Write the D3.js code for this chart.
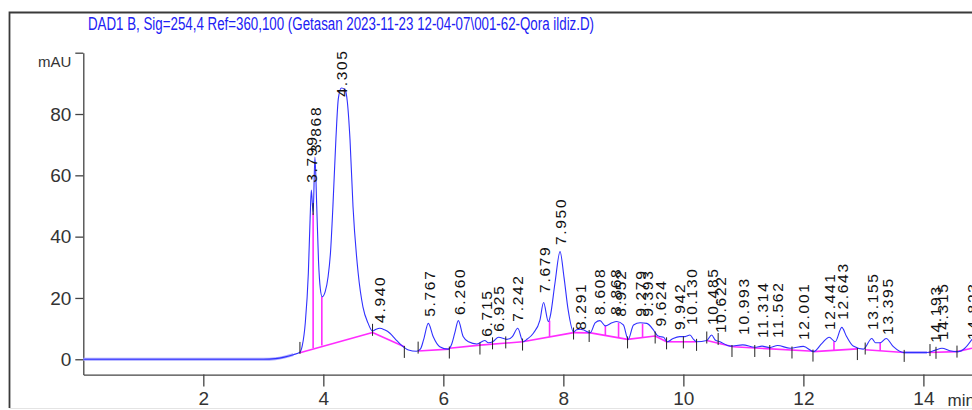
<!DOCTYPE html>
<html lang="en">
  <head>
    <meta charset="utf-8">
    <title>DAD1 B chromatogram</title>
    <script type="text/javascript" src="https://d3js.org/d3.v7.min.js"></script>
    <style>
      body { margin: 0; background: #fff; }
      svg { display: block; }
    </style>
  </head>
  <body>
    <script type="text/javascript">
      var width = 972;
      var height = 410;

      var title = "DAD1 B, Sig=254,4 Ref=360,100 (Getasan 2023-11-23 12-04-07\\001-62-Qora ildiz.D)";

      // detector trace, [minutes, mAU]
      var trace = [
        [0.0, 0], [0.5, 0], [1.0, 0], [1.5, 0], [2.0, 0], [2.5, 0], [3.0, 0], [3.2, 0.2],
        [3.35, 0.7], [3.5, 1.5], [3.61, 2.3], [3.65, 4.5], [3.70, 12], [3.75, 28], [3.78, 46],
        [3.80, 55.2], [3.83, 47.7], [3.86, 66], [3.89, 50], [3.92, 32], [3.95, 23], [3.98, 20.4],
        [4.03, 22], [4.08, 27], [4.12, 35], [4.16, 50], [4.21, 72], [4.25, 85], [4.30, 88.5],
        [4.36, 88], [4.40, 84], [4.445, 71.5], [4.495, 49.7], [4.58, 28.2], [4.66, 17.1],
        [4.745, 11.8], [4.82, 9.2], [4.88, 9.8], [4.94, 10.1], [5.02, 9.6], [5.11, 8.5],
        [5.2, 6.6], [5.3, 4.6], [5.42, 3.0], [5.55, 2.6], [5.62, 3.4], [5.67, 6.3], [5.75, 11.7],
        [5.83, 7.4], [5.94, 4.1], [6.08, 3.3], [6.14, 5], [6.19, 8.5], [6.25, 12.6], [6.33, 7.4],
        [6.42, 5.7], [6.56, 5.0], [6.69, 6.1], [6.75, 5.4], [6.83, 5.8], [6.92, 7.2], [7.06, 6.5],
        [7.15, 7.4], [7.24, 10.1], [7.33, 5.7], [7.40, 6.6], [7.5, 8.5], [7.61, 12.8], [7.67, 18.5],
        [7.75, 12.3], [7.78, 13.9], [7.86, 24.8], [7.945, 35.1], [8.01, 26.9], [8.08, 16.1],
        [8.17, 8.9], [8.22, 9.6], [8.28, 9.8], [8.33, 9.6], [8.45, 8.7], [8.53, 11.9], [8.61, 12.6],
        [8.70, 10.9], [8.81, 11.9], [8.89, 12.3], [9.0, 11.2], [9.08, 6.5], [9.17, 11.2],
        [9.28, 11.9], [9.39, 11.7], [9.5, 9.6], [9.56, 7.9], [9.61, 7.4], [9.67, 7.2], [9.73, 5.7],
        [9.83, 6.8], [9.94, 7.4], [10.03, 7.4], [10.11, 7.9], [10.17, 6.5], [10.22, 5.7],
        [10.39, 6.1], [10.47, 7.9], [10.53, 6.3], [10.61, 5.7], [10.78, 4.3], [10.99, 4.7],
        [11.19, 3.9], [11.31, 4.3], [11.44, 3.8], [11.57, 4.5], [11.78, 3.6], [12.0, 4.2],
        [12.17, 2.5], [12.31, 5.2], [12.43, 7.2], [12.53, 5.7], [12.64, 10.4], [12.72, 7.4],
        [12.83, 4.3], [13.0, 3.3], [13.14, 6.8], [13.2, 5.4], [13.28, 5.4], [13.38, 6.8],
        [13.5, 4.1], [13.67, 2.2], [13.9, 2.2], [14.06, 2.2], [14.19, 2.9], [14.31, 3.6],
        [14.44, 2.8], [14.58, 2.5], [14.69, 3.6], [14.81, 6.5]
      ];

      var peakTimes = [3.799, 3.868, 4.305, 4.940, 5.767, 6.260, 6.715, 6.925, 7.242, 7.679,
                       7.950, 8.291, 8.608, 8.868, 8.952, 9.279, 9.393, 9.624, 9.942, 10.130,
                       10.485, 10.622, 10.993, 11.314, 11.562, 12.001, 12.441, 12.643, 13.155,
                       13.395, 14.193, 14.315, 14.823];
      var peakHeights = [55.6, 65.3, 83.7, 9.9, 11.9, 12.5, 5.4, 7.0, 10.3, 19.7,
                         35.3, 7.6, 12.5, 12.5, 11.9, 11.9, 11.9, 8.7, 7.6, 9.2,
                         9.2, 6.6, 6.0, 5.0, 5.0, 4.3, 7.6, 10.9, 7.6,
                         6.0, 3.4, 4.3, 4.3];

      // integration baselines, each one a polyline of [minutes, mAU]
      var baselines = [
        [[3.61, 2.1], [4.82, 8.7]],
        [[4.82, 8.7], [5.35, 4.1]],
        [[5.58, 2.7], [6.10, 3.3]],
        [[6.10, 3.6], [6.61, 4.6], [7.32, 5.7]],
        [[7.32, 5.7], [8.17, 8.7]],
        [[8.17, 8.7], [8.43, 8.6]],
        [[8.43, 8.7], [9.07, 6.5]],
        [[9.07, 6.5], [9.53, 7.6]],
        [[9.53, 7.6], [9.72, 5.7]],
        [[9.72, 5.7], [10.22, 5.7]],
        [[10.39, 6.1], [10.83, 4.1]],
        [[10.83, 4.1], [12.17, 2.6]],
        [[12.17, 2.5], [12.90, 3.4]],
        [[13.03, 3.1], [13.68, 2.2]],
        [[14.08, 2.2], [14.56, 2.5]],
        [[14.56, 2.5], [14.81, 3.6]]
      ];

      // drop lines between fused peaks: [minutes, top mAU, bottom mAU]
      var dropLines = [[3.83, 47.7, 3.6], [3.975, 20.4, 4.5], [7.77, 12.6, 7.3], [8.70, 10.9, 7.8],
                       [8.92, 11.9, 7.0], [9.32, 11.6, 7.1], [12.51, 5.9, 2.9], [13.28, 5.4, 2.7]];

      // black start/stop event marks: [minutes, mAU]
      var eventMarks = [[3.61, 3.7], [3.83, 49], [4.82, 9.6], [5.35, 2.4], [5.58, 3.8], [6.10, 2.2],
                        [6.61, 3.5], [6.82, 5.2], [7.04, 5.5], [7.32, 4.8], [8.17, 8.4], [8.43, 7.6],
                        [9.07, 5.5], [9.53, 7.1], [9.72, 5.2], [10.0, 5.5], [10.22, 4.7], [10.39, 7.1],
                        [10.58, 6.6], [10.81, 2.7], [11.19, 2.7], [11.44, 2.7], [11.81, 2.2],
                        [12.16, 1.2], [12.90, 1.7], [13.03, 3.5], [13.68, 1.1], [14.11, 3.0],
                        [14.21, 2.1], [14.56, 2.5]];

      var yMajorTicks = [0, 20, 40, 60, 80, 100];
      var xMajorTicks = [2, 4, 6, 8, 10, 12, 14];

      var xScale = d3.scaleLinear().domain([0, 14.81]).range([83.3, 972]);
      var yScale = d3.scaleLinear().domain([-5, 100]).range([374.6, 52.7]);

      var svg = d3.select("body")
            .append("svg")
            .attr("width", width)
            .attr("height", height);

      svg.append("rect").attr("width", width).attr("height", height).attr("fill", "#fff");

      // frame
      svg.append("path")
         .attr("d", "M9.5,408 V12.5 H" + width)
         .attr("fill", "none")
         .attr("stroke", "#3a3a3a")
         .attr("stroke-width", 1.8);
      svg.append("line")
         .attr("x1", 9.5).attr("x2", width).attr("y1", 408.5).attr("y2", 408.5)
         .attr("stroke", "#e4e4e4");

      var narrow = "'Liberation Sans Narrow', 'Arial Narrow', 'Liberation Sans', sans-serif";

      svg.append("text")
         .text(title)
         .attr("x", 88)
         .attr("y", 29.5)
         .attr("font-family", narrow)
         .attr("font-size", "17.5px")
         .attr("textLength", 506)
         .attr("lengthAdjust", "spacingAndGlyphs")
         .attr("fill", "#2020f4");

      // y axis
      var yAxisG = svg.append("g").attr("transform", "translate(" + xScale(0) + ",0)").attr("color", "#444");
      yAxisG.call(d3.axisLeft(yScale)
            .tickValues(d3.range(5, 100, 5).filter(function(d){ return d % 20 != 0; }))
            .tickSize(4).tickSizeOuter(0).tickFormat(""));
      yAxisG.call(d3.axisLeft(yScale)
            .tickValues(yMajorTicks)
            .tickSize(8).tickSizeOuter(0).tickPadding(4)
            .tickFormat(function(d){ return d == 100 ? "" : d; }));
      yAxisG.selectAll("path, line").attr("stroke-width", 1.3);
      yAxisG.selectAll("text")
            .attr("font-family", narrow)
            .attr("font-size", "19px")
            .attr("fill", "#333");
      yAxisG.append("text")
            .text("mAU")
            .attr("x", -12)
            .attr("y", yScale(97))
            .attr("dy", "0.35em")
            .attr("text-anchor", "end")
            .attr("font-family", narrow)
            .attr("font-size", "15px")
            .attr("fill", "#333");

      // x axis
      var xAxisG = svg.append("g").attr("transform", "translate(0," + yScale(-5) + ")").attr("color", "#444");
      xAxisG.call(d3.axisBottom(xScale)
            .tickValues(d3.range(0.5, 14.81, 0.5).filter(function(d){ return d % 2 != 0; }))
            .tickSize(6).tickSizeOuter(0).tickFormat(""));
      xAxisG.call(d3.axisBottom(xScale)
            .tickValues(xMajorTicks)
            .tickSize(12).tickSizeOuter(0).tickPadding(5)
            .tickFormat(d3.format("d")));
      xAxisG.selectAll("path, line").attr("stroke-width", 1.3);
      xAxisG.selectAll("text")
            .attr("font-family", narrow)
            .attr("font-size", "19px")
            .attr("fill", "#333");
      xAxisG.append("text")
            .text("min")
            .attr("x", xScale(14.63))
            .attr("y", 31)
            .attr("font-family", narrow)
            .attr("font-size", "17px")
            .attr("fill", "#333");

      var line = d3.line()
            .x(function(d){ return xScale(d[0]); })
            .y(function(d){ return yScale(d[1]); })
            .curve(d3.curveMonotoneX);

      // flat stretches with no integration show as a wider pale trace
      svg.append("path")
         .datum(trace.filter(function(d){ return d[0] <= 3.6; }))
         .attr("d", line)
         .attr("fill", "none")
         .attr("stroke", "#a9a9ff")
         .attr("stroke-width", 3);
      svg.append("path")
         .datum(trace.filter(function(d){ return d[0] >= 13.67 && d[0] <= 14.06; }))
         .attr("d", line)
         .attr("fill", "none")
         .attr("stroke", "#b9a9ff")
         .attr("stroke-width", 3);

      // baselines
      svg.selectAll("path.baseline")
         .data(baselines)
         .enter()
         .append("path")
         .attr("class", "baseline")
         .attr("d", d3.line()
               .x(function(d){ return xScale(d[0]); })
               .y(function(d){ return yScale(d[1]); }))
         .attr("fill", "none")
         .attr("stroke", "#ff2cff")
         .attr("stroke-width", 1.6);

      svg.selectAll("line.drop")
         .data(dropLines)
         .enter()
         .append("line")
         .attr("class", "drop")
         .attr("x1", function(d){ return xScale(d[0]); })
         .attr("x2", function(d){ return xScale(d[0]); })
         .attr("y1", function(d){ return yScale(d[1]); })
         .attr("y2", function(d){ return yScale(d[2]); })
         .attr("stroke", "#ff2cff")
         .attr("stroke-width", 1.6);

      // signal
      svg.append("path")
         .datum(trace)
         .attr("d", line)
         .attr("fill", "none")
         .attr("stroke", "#3030ff")
         .attr("stroke-width", 1.1);

      svg.selectAll("line.mark")
         .data(eventMarks)
         .enter()
         .append("line")
         .attr("class", "mark")
         .attr("x1", function(d){ return xScale(d[0]); })
         .attr("x2", function(d){ return xScale(d[0]); })
         .attr("y1", function(d){ return yScale(d[1]) - 6; })
         .attr("y2", function(d){ return yScale(d[1]) + 6; })
         .attr("stroke", "#222")
         .attr("stroke-width", 1);

      // retention time labels
      var fmt = d3.format(".3f");
      svg.selectAll("text.rt")
         .data(peakTimes)
         .enter()
         .append("text")
         .attr("class", "rt")
         .text(function(d){ return fmt(d); })
         .attr("transform", function(d, i){
           return "translate(" + xScale(d) + "," + (yScale(peakHeights[i]) - 6) + ") rotate(-90)";
         })
         .attr("dy", "0.36em")
         .attr("font-family", "'Liberation Sans', Arial, sans-serif")
         .attr("font-size", "15.5px")
         .attr("letter-spacing", "1.7px")
         .attr("fill", "#111");
    </script>
  </body>
</html>
